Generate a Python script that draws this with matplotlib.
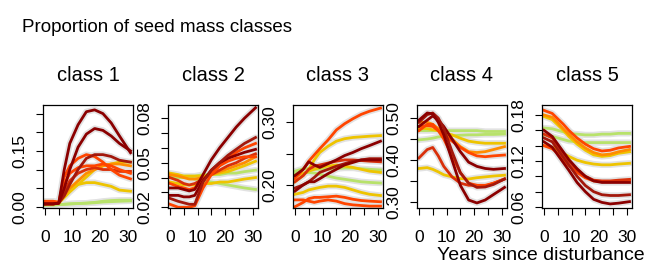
import matplotlib
matplotlib.use("Agg")
import matplotlib.pyplot as plt

plt.rcParams['font.family'] = ['Liberation Sans', 'DejaVu Sans']

years = [0, 3, 5, 7, 9, 12, 15, 18, 21, 24, 27, 31]

darkred = '#8B0000'
brown = '#A3180C'
red = '#D9300A'
orangered = '#FF4500'
orange = '#FF8C00'
gold = '#EEC400'
green = '#B8E26A'

titles = ['class 1', 'class 2', 'class 3', 'class 4', 'class 5']

class1 = [
    (green, [0.005, 0.005, 0.006, 0.007, 0.008, 0.009, 0.010, 0.012, 0.015, 0.017, 0.018, 0.018]),
    (green, [0.005, 0.005, 0.006, 0.007, 0.008, 0.009, 0.010, 0.011, 0.013, 0.014, 0.015, 0.016]),
    (gold, [0.008, 0.008, 0.010, 0.025, 0.040, 0.060, 0.080, 0.100, 0.110, 0.115, 0.120, 0.120]),
    (gold, [0.008, 0.008, 0.010, 0.030, 0.050, 0.060, 0.065, 0.065, 0.060, 0.055, 0.045, 0.042]),
    (orange, [0.015, 0.015, 0.012, 0.030, 0.050, 0.070, 0.090, 0.100, 0.110, 0.115, 0.115, 0.110]),
    (red, [0.008, 0.010, 0.012, 0.040, 0.070, 0.090, 0.100, 0.105, 0.100, 0.100, 0.095, 0.095]),
    (orangered, [0.008, 0.008, 0.010, 0.060, 0.090, 0.105, 0.110, 0.110, 0.115, 0.110, 0.100, 0.090]),
    (orangered, [0.015, 0.015, 0.012, 0.080, 0.110, 0.130, 0.140, 0.135, 0.120, 0.100, 0.085, 0.075]),
    (brown, [0.008, 0.008, 0.010, 0.030, 0.060, 0.100, 0.130, 0.140, 0.140, 0.135, 0.125, 0.120]),
    (darkred, [0.008, 0.008, 0.010, 0.050, 0.100, 0.160, 0.195, 0.210, 0.205, 0.190, 0.170, 0.150]),
    (darkred, [0.008, 0.008, 0.010, 0.100, 0.170, 0.220, 0.255, 0.260, 0.250, 0.225, 0.190, 0.145]),
]

class2 = [
    (green, [0.040, 0.040, 0.040, 0.040, 0.039, 0.038, 0.037, 0.036, 0.035, 0.034, 0.033, 0.032]),
    (green, [0.040, 0.041, 0.041, 0.041, 0.041, 0.042, 0.042, 0.042, 0.043, 0.043, 0.044, 0.045]),
    (gold, [0.043, 0.042, 0.041, 0.041, 0.041, 0.041, 0.042, 0.043, 0.044, 0.046, 0.048, 0.051]),
    (gold, [0.037, 0.036, 0.035, 0.035, 0.035, 0.036, 0.036, 0.037, 0.037, 0.038, 0.039, 0.040]),
    (orange, [0.042, 0.041, 0.040, 0.039, 0.039, 0.040, 0.042, 0.044, 0.046, 0.048, 0.050, 0.054]),
    (red, [0.040, 0.038, 0.036, 0.035, 0.036, 0.039, 0.042, 0.045, 0.048, 0.050, 0.053, 0.056]),
    (orangered, [0.036, 0.034, 0.033, 0.032, 0.033, 0.038, 0.044, 0.048, 0.051, 0.053, 0.054, 0.054]),
    (orangered, [0.022, 0.020, 0.020, 0.020, 0.021, 0.033, 0.042, 0.048, 0.053, 0.057, 0.060, 0.063]),
    (darkred, [0.028, 0.028, 0.027, 0.027, 0.028, 0.038, 0.045, 0.050, 0.053, 0.055, 0.057, 0.059]),
    (brown, [0.026, 0.024, 0.023, 0.022, 0.022, 0.037, 0.045, 0.050, 0.055, 0.059, 0.063, 0.067]),
    (darkred, [0.033, 0.033, 0.032, 0.031, 0.032, 0.042, 0.052, 0.060, 0.067, 0.074, 0.080, 0.087]),
]

class3 = [
    (green, [0.222, 0.226, 0.226, 0.225, 0.225, 0.225, 0.226, 0.227, 0.227, 0.226, 0.225, 0.224]),
    (green, [0.218, 0.219, 0.220, 0.219, 0.217, 0.214, 0.211, 0.209, 0.207, 0.205, 0.204, 0.203]),
    (gold, [0.205, 0.215, 0.225, 0.240, 0.252, 0.262, 0.270, 0.274, 0.276, 0.277, 0.278, 0.279]),
    (gold, [0.215, 0.218, 0.222, 0.225, 0.228, 0.230, 0.232, 0.230, 0.228, 0.225, 0.222, 0.220]),
    (gold, [0.185, 0.188, 0.192, 0.194, 0.196, 0.198, 0.198, 0.196, 0.192, 0.188, 0.185, 0.183]),
    (red, [0.205, 0.215, 0.225, 0.230, 0.232, 0.235, 0.238, 0.240, 0.240, 0.239, 0.238, 0.237]),
    (orangered, [0.165, 0.172, 0.178, 0.180, 0.180, 0.181, 0.182, 0.180, 0.177, 0.175, 0.174, 0.173]),
    (orangered, [0.176, 0.176, 0.174, 0.172, 0.174, 0.176, 0.174, 0.170, 0.168, 0.167, 0.166, 0.166]),
    (orangered, [0.210, 0.225, 0.238, 0.248, 0.258, 0.272, 0.288, 0.298, 0.306, 0.313, 0.318, 0.323]),
    (brown, [0.195, 0.200, 0.205, 0.212, 0.220, 0.225, 0.230, 0.234, 0.238, 0.240, 0.242, 0.242]),
    (darkred, [0.190, 0.200, 0.205, 0.205, 0.210, 0.218, 0.225, 0.232, 0.236, 0.240, 0.240, 0.240]),
    (darkred, [0.215, 0.225, 0.237, 0.232, 0.228, 0.234, 0.240, 0.247, 0.252, 0.258, 0.263, 0.270]),
]

class4 = [
    (green, [0.470, 0.470, 0.470, 0.470, 0.470, 0.470, 0.470, 0.470, 0.470, 0.468, 0.468, 0.468]),
    (green, [0.448, 0.450, 0.452, 0.455, 0.456, 0.458, 0.459, 0.460, 0.460, 0.461, 0.461, 0.462]),
    (gold, [0.475, 0.475, 0.472, 0.470, 0.465, 0.460, 0.452, 0.445, 0.442, 0.440, 0.440, 0.440]),
    (gold, [0.380, 0.382, 0.378, 0.372, 0.365, 0.360, 0.356, 0.355, 0.358, 0.360, 0.362, 0.364]),
    (orange, [0.490, 0.490, 0.485, 0.475, 0.465, 0.450, 0.432, 0.420, 0.418, 0.420, 0.425, 0.432]),
    (orangered, [0.480, 0.482, 0.480, 0.470, 0.460, 0.445, 0.430, 0.418, 0.410, 0.408, 0.410, 0.412]),
    (red, [0.405, 0.425, 0.430, 0.410, 0.385, 0.360, 0.345, 0.340, 0.340, 0.338, 0.345, 0.355]),
    (orangered, [0.470, 0.485, 0.485, 0.470, 0.450, 0.410, 0.370, 0.345, 0.340, 0.340, 0.345, 0.355]),
    (darkred, [0.480, 0.495, 0.505, 0.495, 0.480, 0.450, 0.420, 0.395, 0.385, 0.380, 0.378, 0.380]),
    (brown, [0.490, 0.508, 0.512, 0.500, 0.475, 0.420, 0.370, 0.345, 0.335, 0.336, 0.342, 0.355]),
    (darkred, [0.495, 0.512, 0.510, 0.490, 0.460, 0.400, 0.340, 0.305, 0.298, 0.305, 0.318, 0.335]),
]

class5 = [
    (green, [0.163, 0.162, 0.160, 0.158, 0.156, 0.155, 0.154, 0.154, 0.155, 0.155, 0.156, 0.156]),
    (green, [0.154, 0.152, 0.150, 0.148, 0.146, 0.145, 0.144, 0.144, 0.144, 0.144, 0.144, 0.144]),
    (gold, [0.178, 0.174, 0.167, 0.160, 0.152, 0.142, 0.134, 0.128, 0.126, 0.127, 0.130, 0.132]),
    (gold, [0.140, 0.138, 0.134, 0.130, 0.126, 0.121, 0.118, 0.116, 0.115, 0.115, 0.116, 0.117]),
    (orange, [0.180, 0.177, 0.170, 0.162, 0.155, 0.145, 0.137, 0.131, 0.128, 0.129, 0.132, 0.135]),
    (orangered, [0.186, 0.182, 0.175, 0.168, 0.160, 0.150, 0.142, 0.136, 0.133, 0.134, 0.137, 0.139]),
    (orangered, [0.140, 0.136, 0.130, 0.122, 0.114, 0.105, 0.098, 0.094, 0.093, 0.093, 0.094, 0.095]),
    (red, [0.155, 0.150, 0.140, 0.130, 0.120, 0.108, 0.100, 0.095, 0.094, 0.094, 0.095, 0.096]),
    (darkred, [0.160, 0.152, 0.142, 0.132, 0.122, 0.110, 0.100, 0.094, 0.092, 0.092, 0.092, 0.092]),
    (brown, [0.150, 0.145, 0.135, 0.125, 0.115, 0.100, 0.088, 0.080, 0.076, 0.075, 0.075, 0.076]),
    (darkred, [0.145, 0.138, 0.128, 0.118, 0.108, 0.092, 0.080, 0.070, 0.066, 0.064, 0.065, 0.067]),
]

panels = [class1, class2, class3, class4, class5]

ylims = [(-0.003, 0.273), (0.0195, 0.0889), (0.163, 0.328), (0.286, 0.531), (0.0587, 0.193)]
yticks = [
    [0.00, 0.05, 0.10, 0.15, 0.20, 0.25],
    [0.02, 0.03, 0.04, 0.05, 0.06, 0.07, 0.08],
    [0.20, 0.25, 0.30],
    [0.30, 0.35, 0.40, 0.45, 0.50],
    [0.06, 0.08, 0.10, 0.12, 0.14, 0.16, 0.18],
]
ytick_labels = [
    ['0.00', '', '', '0.15', '', ''],
    ['0.02', '', '', '0.05', '', '', '0.08'],
    ['0.20', '', '0.30'],
    ['0.30', '', '0.40', '', '0.50'],
    ['0.06', '', '', '0.12', '', '', '0.18'],
]
xticks = [0, 5, 10, 15, 20, 25, 30]
xtick_labels = ['0', '', '10', '', '20', '', '30']

fig = plt.figure(figsize=(6.48, 2.64), dpi=100)
W, H = 648.0, 264.0
lefts = [43, 168, 293, 417, 542]
top_px, bot_px = 105, 208
width_px = 90

for i, lines in enumerate(panels):
    ax = fig.add_axes([lefts[i] / W, 1 - bot_px / H, width_px / W, (bot_px - top_px) / H])
    # light grey halo under each curve, then the coloured curves
    for col, vals in lines:
        ax.plot(years, vals, color='#E2E2E2', lw=4.5, solid_capstyle='round', zorder=1)
    for col, vals in lines:
        ax.plot(years, vals, color=col, lw=2.0, zorder=2)
    ax.set_xlim(-0.7, 31.9)
    ax.set_ylim(*ylims[i])
    ax.set_xticks(xticks)
    ax.set_xticklabels(xtick_labels, fontsize=12.5)
    ax.set_yticks(yticks[i])
    ax.set_yticklabels(ytick_labels[i], fontsize=12.5, rotation=90, va='center')
    ax.tick_params(direction='out', length=5, width=0.8, pad=6)
    ax.tick_params(axis='x', pad=11)
    for s in ax.spines.values():
        s.set_linewidth(0.9)
    ax.set_title(titles[i], fontsize=14.5, pad=17)

fig.text(22 / W, 1 - 27 / H, 'Proportion of seed mass classes', fontsize=13.5, ha='left', va='center')
fig.text(645 / W, 1 - 256 / H, 'Years since disturbance', fontsize=14, ha='right', va='center')

fig.savefig('out.png', dpi=100)
